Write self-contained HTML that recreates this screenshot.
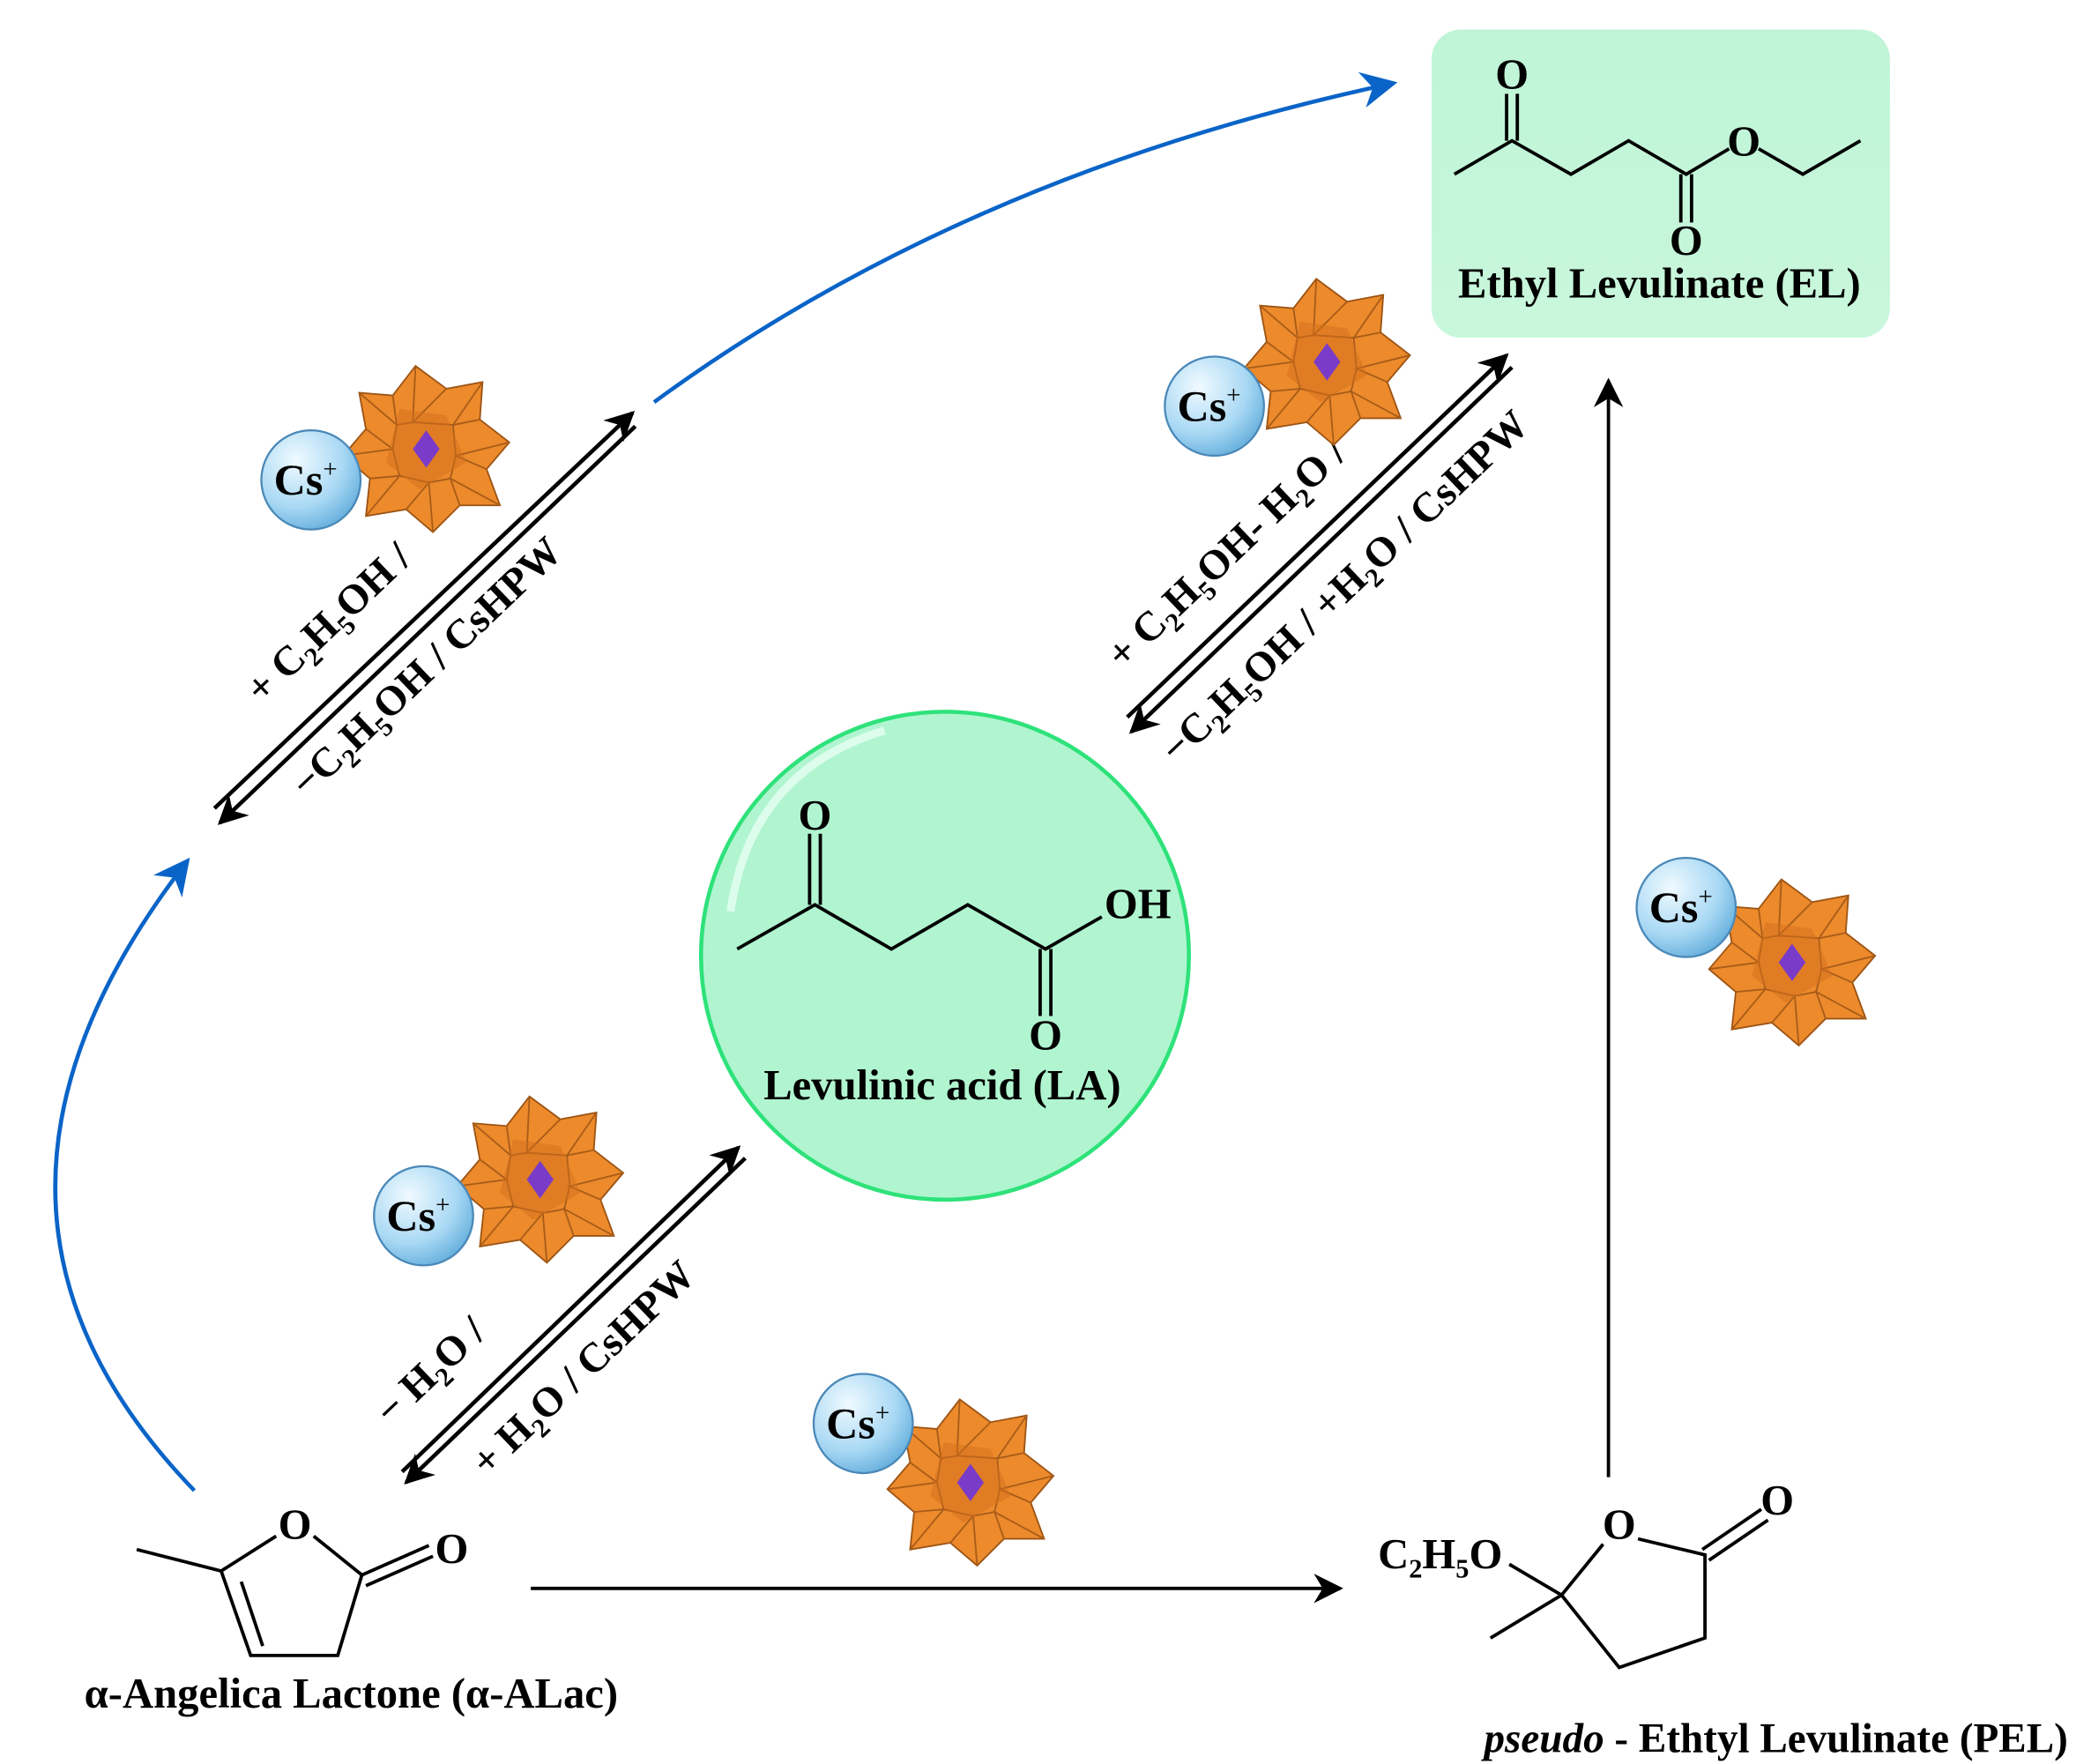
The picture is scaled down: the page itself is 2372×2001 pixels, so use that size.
<!DOCTYPE html>
<html><head><meta charset="utf-8"><style>
html,body{margin:0;padding:0;background:#fff}
svg{display:block}
text{font-family:"Liberation Serif",serif;font-weight:bold;fill:#000}
</style></head><body>
<svg width="2372" height="2001" viewBox="0 0 1560 1316" preserveAspectRatio="none" xmlns="http://www.w3.org/2000/svg">
<defs>
<linearGradient id="elg" x1="0" y1="0" x2="0" y2="1"><stop offset="0" stop-color="#bff5d6"/><stop offset="1" stop-color="#c9f7dc"/></linearGradient>
<radialGradient id="csg" cx="0.35" cy="0.3" r="0.8"><stop offset="0" stop-color="#f0faff"/><stop offset="0.6" stop-color="#a8d8f4"/><stop offset="1" stop-color="#5aa8d8"/></radialGradient>
<marker id="ahb" viewBox="0 0 10 10" refX="9" refY="5" markerWidth="9" markerHeight="9" orient="auto"><path d="M0,0 L10,5 L0,10 L3,5z" fill="#0a64c8"/></marker>
<marker id="ahk" viewBox="0 0 10 10" refX="9" refY="5" markerWidth="30" markerHeight="22" orient="auto" markerUnits="userSpaceOnUse"><path d="M0,0 L10,5 L0,10 L3,5z" fill="#000"/></marker>
<g id="pom">
<polygon points="-8,-62 15,-45 42,-50 40,-22 62,-5 45,15 55,42 25,42 5,62 -15,45 -45,50 -42,22 -62,5 -45,-15 -50,-42 -25,-40" fill="#ec8a2c" stroke="#9c5414" stroke-width="1.2"/>
<g stroke="#a85c18" stroke-width="1.2" fill="none">
<path d="M-8,-62 L-10,-20 L15,-45 M42,-50 L20,-18 L40,-22 M62,-5 L22,5 L45,15 M55,42 L18,22 L25,42 M5,62 L2,25 L-15,45 M-45,50 L-20,20 L-42,22 M-62,5 L-25,0 L-45,-15 M-50,-42 L-22,-18 L-25,-40"/>
<path d="M-10,-20 L20,-18 L22,5 L18,22 L2,25 L-20,20 L-25,0 L-22,-18z"/>
</g>
<path d="M-20,-30 L15,-25 L30,10 L-5,30 L-30,10z" fill="#d46e1c" opacity="0.5"/>
<path d="M0,-14 L10,0 L0,14 L-10,0z" fill="#7a3cc8"/>
</g>
<g id="cs">
<circle r="37" fill="url(#csg)" stroke="#4a88b8" stroke-width="1.5"/>
<text x="-4" y="11" text-anchor="middle" font-size="33">Cs<tspan dy="-13" font-size="19" style="font-weight:normal">+</tspan></text>
</g>
</defs>

<!-- EL box -->
<rect x="1068" y="22" width="342" height="230" rx="22" fill="url(#elg)"/>
<g stroke="#000" stroke-width="2.5" fill="none">
<polyline points="1085,130 1128,105 1172,130 1215,105 1258,130 1290,111"/>
<line x1="1124" y1="105" x2="1124" y2="70"/><line x1="1132" y1="105" x2="1132" y2="70"/>
<line x1="1254" y1="130" x2="1254" y2="166"/><line x1="1262" y1="130" x2="1262" y2="166"/>
<polyline points="1312,111 1345,130 1388,105"/>
</g>
<text x="1128" y="66" font-size="32" text-anchor="middle">O</text>
<text x="1258" y="190" font-size="32" text-anchor="middle">O</text>
<text x="1301" y="116" font-size="32" text-anchor="middle">O</text>
<text x="1238" y="222" font-size="32" text-anchor="middle">Ethyl Levulinate (EL)</text>

<!-- LA -->
<circle cx="705" cy="713" r="182" fill="#b0f5d0" stroke="#2ee27a" stroke-width="3"/>
<path d="M545,680 Q560,575 660,545" stroke="#e8fff2" stroke-width="6" fill="none" opacity="0.8"/>
<g stroke="#000" stroke-width="2.5" fill="none">
<polyline points="550,708 608,675 665,708 722,675 780,708 822,684"/>
<line x1="604" y1="675" x2="604" y2="622"/><line x1="612" y1="675" x2="612" y2="622"/>
<line x1="776" y1="708" x2="776" y2="758"/><line x1="784" y1="708" x2="784" y2="758"/>
</g>
<text x="608" y="619" font-size="32" text-anchor="middle">O</text>
<text x="780" y="783" font-size="32" text-anchor="middle">O</text>
<text x="824" y="685" font-size="32">OH</text>
<text x="703" y="820" font-size="32" text-anchor="middle">Levulinic acid (LA)</text>

<!-- alpha-ALac -->
<g stroke="#000" stroke-width="2.5" fill="none">
<polyline points="102,1156 165,1172"/>
<polyline points="165,1172 206,1146"/>
<polyline points="234,1146 270,1175 252,1235 187,1235 165,1172"/>
<line x1="180" y1="1180" x2="196" y2="1228"/>
<line x1="270" y1="1175" x2="320" y2="1153"/><line x1="273" y1="1183" x2="323" y2="1161"/>
</g>
<text x="220" y="1148" font-size="32" text-anchor="middle">O</text>
<text x="337" y="1166" font-size="32" text-anchor="middle">O</text>
<text x="262" y="1274" font-size="32" text-anchor="middle">α-Angelica Lactone (α-ALac)</text>

<!-- PEL -->
<g stroke="#000" stroke-width="2.5" fill="none">
<polyline points="1126,1167 1165,1190 1196,1152"/>
<polyline points="1222,1148 1272,1160 1272,1222 1208,1244 1165,1190 1112,1222"/>
<line x1="1270" y1="1156" x2="1314" y2="1126"/><line x1="1275" y1="1164" x2="1319" y2="1134"/>
</g>
<text x="1208" y="1148" font-size="32" text-anchor="middle">O</text>
<text x="1326" y="1130" font-size="32" text-anchor="middle">O</text>
<text x="1028" y="1170" font-size="32">C<tspan font-size="20" dy="7">2</tspan><tspan dy="-7">H</tspan><tspan font-size="20" dy="7">5</tspan><tspan dy="-7">O</tspan></text>
<text x="1325" y="1307" font-size="31" text-anchor="middle"><tspan font-style="italic">pseudo</tspan> - Ethtyl Levulinate (PEL)</text>

<!-- straight arrows -->
<line x1="396" y1="1185" x2="1000" y2="1185" stroke="#000" stroke-width="2.5" marker-end="url(#ahk)"/>
<line x1="1200" y1="1102" x2="1200" y2="284" stroke="#000" stroke-width="2.5" marker-end="url(#ahk)"/>

<!-- equilibria -->
<g stroke="#000" stroke-width="3">
<line x1="160" y1="603" x2="472" y2="308" marker-end="url(#ahk)"/>
<line x1="474" y1="318" x2="164" y2="614" marker-end="url(#ahk)"/>
<line x1="841" y1="535" x2="1124" y2="265" marker-end="url(#ahk)"/>
<line x1="1128" y1="274" x2="844" y2="546" marker-end="url(#ahk)"/>
<line x1="300" y1="1098" x2="551" y2="856" marker-end="url(#ahk)"/>
<line x1="556" y1="864" x2="303" y2="1106" marker-end="url(#ahk)"/>
</g>

<!-- blue curves -->
<path d="M145,1112 Q-60,900 140,642" stroke="#0a64c8" stroke-width="3" fill="none" marker-end="url(#ahb)"/>
<path d="M488,300 Q720,130 1040,62" stroke="#0a64c8" stroke-width="3" fill="none" marker-end="url(#ahb)"/>

<!-- rotated labels -->
<g font-size="31">
<text transform="translate(252,472) rotate(-43.6)" text-anchor="middle">+ C<tspan font-size="20" dy="7">2</tspan><tspan dy="-7">H</tspan><tspan font-size="20" dy="7">5</tspan><tspan dy="-7">OH /</tspan></text>
<text transform="translate(325,505) rotate(-43.6)" text-anchor="middle">−C<tspan font-size="20" dy="7">2</tspan><tspan dy="-7">H</tspan><tspan font-size="20" dy="7">5</tspan><tspan dy="-7">OH / CsHPW</tspan></text>
<text transform="translate(922,420) rotate(-43.6)" text-anchor="middle">+ C<tspan font-size="20" dy="7">2</tspan><tspan dy="-7">H</tspan><tspan font-size="20" dy="7">5</tspan><tspan dy="-7">OH- H</tspan><tspan font-size="20" dy="7">2</tspan><tspan dy="-7">O /</tspan></text>
<text transform="translate(1010,445) rotate(-43.6)" text-anchor="middle">−C<tspan font-size="20" dy="7">2</tspan><tspan dy="-7">H</tspan><tspan font-size="20" dy="7">5</tspan><tspan dy="-7">OH / +H</tspan><tspan font-size="20" dy="7">2</tspan><tspan dy="-7">O / CsHPW</tspan></text>
<text transform="translate(328,1030) rotate(-43.6)" text-anchor="middle">− H<tspan font-size="20" dy="7">2</tspan><tspan dy="-7">O /</tspan></text>
<text transform="translate(442,1028) rotate(-43.6)" text-anchor="middle">+ H<tspan font-size="20" dy="7">2</tspan><tspan dy="-7">O / CsHPW</tspan></text>
</g>

<!-- catalysts -->
<use href="#pom" x="318" y="335"/><use href="#cs" x="232" y="358"/>
<use href="#pom" x="990" y="270"/><use href="#cs" x="906" y="303"/>
<use href="#pom" x="1337" y="718"/><use href="#cs" x="1258" y="677"/>
<use href="#pom" x="403" y="880"/><use href="#cs" x="316" y="907"/>
<use href="#pom" x="724" y="1106"/><use href="#cs" x="644" y="1062"/>
</svg>
</body></html>
